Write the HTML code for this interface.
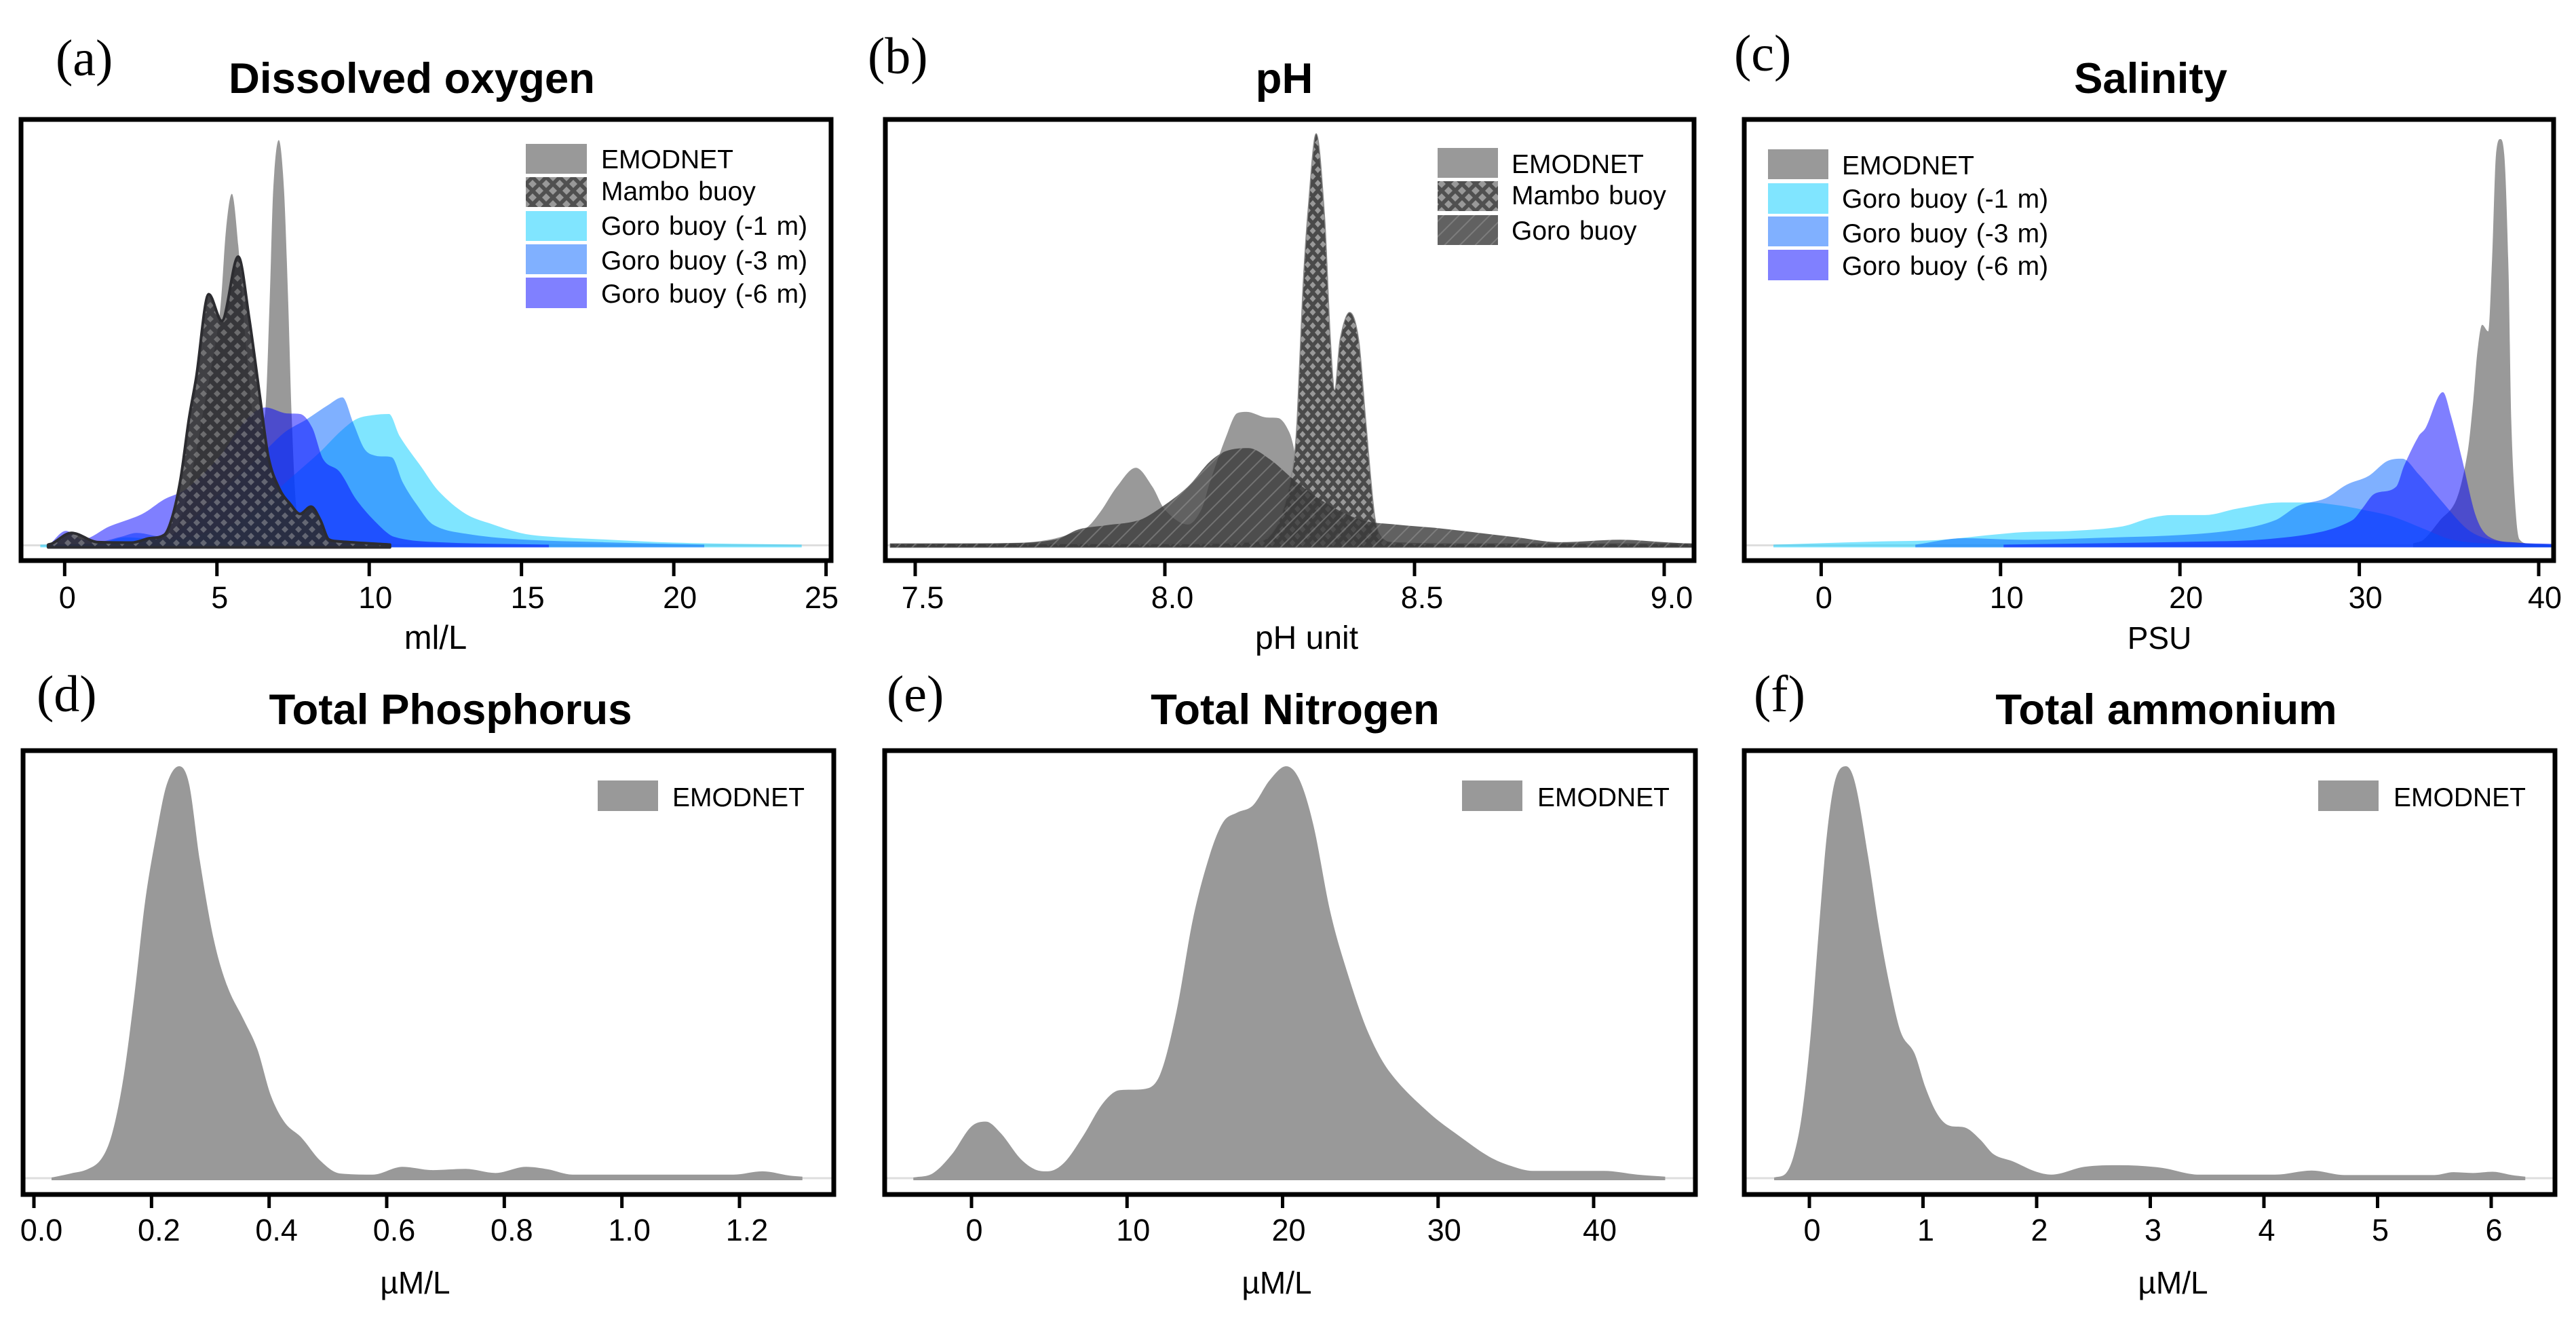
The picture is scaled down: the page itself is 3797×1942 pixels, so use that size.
<!DOCTYPE html>
<html lang="en">
<head>
<meta charset="utf-8">
<title>Density distributions of water quality parameters</title>
<style>
html,body{margin:0;padding:0;background:#fff;}
svg{display:block;}
text{font-family:"Liberation Sans",Arial,sans-serif;fill:#000;}
.title{font-size:63.5px;font-weight:700;text-anchor:middle;}
.letter{font-family:"Liberation Serif","Times New Roman",serif;font-size:76px;}
.axis-title{font-size:46px;text-anchor:middle;}
.legend{font-size:39px;word-spacing:2.4px;}
.tick-label{font-size:45px;text-anchor:middle;}
.frame{fill:none;stroke:#000;stroke-width:7;}
.base{stroke:#dedede;stroke-width:3;}
</style>
</head>
<body>
<svg id="fig" xmlns="http://www.w3.org/2000/svg" width="3797" height="1942" viewBox="0 0 3797 1942">
<defs>
  <pattern id="mamboA" patternUnits="userSpaceOnUse" width="20" height="20">
    <rect width="20" height="20" fill="#2b2b30" fill-opacity="0.9"/>
    <polygon points="0,-5 5,0 0,5 -5,0" fill="#b5b5b5" fill-opacity="0.42"/>
    <polygon points="20,-5 25,0 20,5 15,0" fill="#b5b5b5" fill-opacity="0.42"/>
    <polygon points="0,15 5,20 0,25 -5,20" fill="#b5b5b5" fill-opacity="0.42"/>
    <polygon points="20,15 25,20 20,25 15,20" fill="#b5b5b5" fill-opacity="0.42"/>
    <polygon points="10,5 15,10 10,15 5,10" fill="#b5b5b5" fill-opacity="0.42"/>
  </pattern>
  <pattern id="mamboB" patternUnits="userSpaceOnUse" width="15" height="20">
    <rect width="15" height="20" fill="#4a4a4a"/>
    <polygon points="0,-5 4.5,0 0,5 -4.5,0" fill="#9a9a9a"/>
    <polygon points="15,-5 19.5,0 15,5 10.5,0" fill="#9a9a9a"/>
    <polygon points="0,15 4.5,20 0,25 -4.5,20" fill="#9a9a9a"/>
    <polygon points="15,15 19.5,20 15,25 10.5,20" fill="#9a9a9a"/>
    <polygon points="7.5,5 12,10 7.5,15 3,10" fill="#9a9a9a"/>
  </pattern>
  <pattern id="mamboLegend" patternUnits="userSpaceOnUse" width="20" height="20" x="775" y="261">
    <rect width="20" height="20" fill="#505050"/>
    <polygon points="0,-6 6,0 0,6 -6,0" fill="#999"/>
    <polygon points="20,-6 26,0 20,6 14,0" fill="#999"/>
    <polygon points="0,14 6,20 0,26 -6,20" fill="#999"/>
    <polygon points="20,14 26,20 20,26 14,20" fill="#999"/>
    <polygon points="10,4 16,10 10,16 4,10" fill="#999"/>
  </pattern>
  <pattern id="stripes" patternUnits="userSpaceOnUse" width="16" height="16" patternTransform="rotate(45)">
    <rect width="16" height="16" fill="#3a3a3a" fill-opacity="0.8"/>
    <rect width="2" height="16" fill="#9a9a9a" fill-opacity="0.5"/>
  </pattern>
  <clipPath id="clip-a"><rect x="31" y="176" width="1194" height="650"/></clipPath>
  <clipPath id="clip-b"><rect x="1305" y="176" width="1192" height="650"/></clipPath>
  <clipPath id="clip-c"><rect x="2571" y="176" width="1193" height="650"/></clipPath>
  <clipPath id="clip-d"><rect x="34" y="1106" width="1195" height="654"/></clipPath>
  <clipPath id="clip-e"><rect x="1304" y="1106" width="1195" height="654"/></clipPath>
  <clipPath id="clip-f"><rect x="2571" y="1106" width="1195" height="654"/></clipPath>
</defs>
<rect width="3797" height="1942" fill="#fff"/>

<!-- panel a -->
<g>
  <text class="letter" x="82" y="111">(a)</text>
  <text class="title" x="607" y="137">Dissolved oxygen</text>
  <line class="base" x1="31" x2="1225" y1="803.5" y2="803.5"/>
  <g id="areas-a" clip-path="url(#clip-a)"></g>
  <rect class="frame" x="31" y="176" width="1194" height="650"/>
  <g id="ticks-a"></g>
  <text class="axis-title" x="642" y="956" style="font-size:49px">ml/L</text>
  <g>
    <rect x="775" y="212" width="90" height="44" fill="#999"/>
    <rect x="775" y="261" width="90" height="44" fill="url(#mamboLegend)"/>
    <rect x="775" y="311" width="90" height="44" fill="#80e5ff"/>
    <rect x="775" y="360" width="90" height="44" fill="#80b0ff"/>
    <rect x="775" y="409" width="90" height="45" fill="#8080ff"/>
    <text class="legend" x="886" y="248">EMODNET</text>
    <text class="legend" x="886" y="295">Mambo buoy</text>
    <text class="legend" x="886" y="346">Goro buoy (-1 m)</text>
    <text class="legend" x="886" y="397">Goro buoy (-3 m)</text>
    <text class="legend" x="886" y="446">Goro buoy (-6 m)</text>
  </g>
</g>

<!-- panel b -->
<g>
  <text class="letter" x="1279" y="108">(b)</text>
  <text class="title" x="1893" y="137">pH</text>
  <line class="base" x1="1305" x2="2497" y1="803.5" y2="803.5"/>
  <g id="areas-b" clip-path="url(#clip-b)"></g>
  <rect class="frame" x="1305" y="176" width="1192" height="650"/>
  <g id="ticks-b"></g>
  <text class="axis-title" x="1926" y="956" style="font-size:48px">pH unit</text>
  <g>
    <rect x="2119" y="218" width="89" height="44" fill="#999"/>
    <rect x="2119" y="267" width="89" height="44" fill="url(#mamboLegend)"/>
    <rect x="2119" y="317" width="89" height="44" fill="url(#stripes)"/>
    <text class="legend" x="2228" y="255">EMODNET</text>
    <text class="legend" x="2228" y="301">Mambo buoy</text>
    <text class="legend" x="2228" y="353">Goro buoy</text>
  </g>
</g>

<!-- panel c -->
<g>
  <text class="letter" x="2556" y="104">(c)</text>
  <text class="title" x="3170" y="137">Salinity</text>
  <line class="base" x1="2571" x2="3764" y1="803.5" y2="803.5"/>
  <g id="areas-c" clip-path="url(#clip-c)"></g>
  <rect class="frame" x="2571" y="176" width="1193" height="650"/>
  <g id="ticks-c"></g>
  <text class="axis-title" x="3183" y="956">PSU</text>
  <g>
    <rect x="2606" y="220" width="89" height="44" fill="#999"/>
    <rect x="2606" y="270" width="89" height="45" fill="#80e5ff"/>
    <rect x="2606" y="319" width="89" height="44" fill="#80b0ff"/>
    <rect x="2606" y="368" width="89" height="45" fill="#8080ff"/>
    <text class="legend" x="2715" y="257">EMODNET</text>
    <text class="legend" x="2715" y="306">Goro buoy (-1 m)</text>
    <text class="legend" x="2715" y="357">Goro buoy (-3 m)</text>
    <text class="legend" x="2715" y="405">Goro buoy (-6 m)</text>
  </g>
</g>

<!-- panel d -->
<g>
  <text class="letter" x="54" y="1048">(d)</text>
  <text class="title" x="664" y="1067">Total Phosphorus</text>
  <line class="base" x1="34" x2="1229" y1="1736" y2="1736"/>
  <g id="areas-d" clip-path="url(#clip-d)"></g>
  <rect class="frame" x="34" y="1106" width="1195" height="654"/>
  <g id="ticks-d"></g>
  <text class="axis-title" x="612" y="1906">µM/L</text>
  <g>
    <rect x="881" y="1150" width="89" height="45" fill="#999"/>
    <text class="legend" x="991" y="1188">EMODNET</text>
  </g>
</g>

<!-- panel e -->
<g>
  <text class="letter" x="1307" y="1048">(e)</text>
  <text class="title" x="1909" y="1067">Total Nitrogen</text>
  <line class="base" x1="1304" x2="2499" y1="1736" y2="1736"/>
  <g id="areas-e" clip-path="url(#clip-e)"></g>
  <rect class="frame" x="1304" y="1106" width="1195" height="654"/>
  <g id="ticks-e"></g>
  <text class="axis-title" x="1882" y="1906">µM/L</text>
  <g>
    <rect x="2155" y="1150" width="89" height="45" fill="#999"/>
    <text class="legend" x="2266" y="1188">EMODNET</text>
  </g>
</g>

<!-- panel f -->
<g>
  <text class="letter" x="2585" y="1048">(f)</text>
  <text class="title" x="3193" y="1067">Total ammonium</text>
  <line class="base" x1="2571" x2="3766" y1="1736" y2="1736"/>
  <g id="areas-f" clip-path="url(#clip-f)"></g>
  <rect class="frame" x="2571" y="1106" width="1195" height="654"/>
  <g id="ticks-f"></g>
  <text class="axis-title" x="3203" y="1906">µM/L</text>
  <g>
    <rect x="3417" y="1150" width="89" height="45" fill="#999"/>
    <text class="legend" x="3528" y="1188">EMODNET</text>
  </g>
</g>
</svg>

<script>
// ---- Tick values and labels ----
var doTicks = [0, 5, 10, 15, 20, 25];
var doTickLabels = ['0', '5', '10', '15', '20', '25'];
var phTicks = [7.5, 8, 8.5, 9];
var phTickLabels = ['7.5', '8.0', '8.5', '9.0'];
var salTicks = [0, 10, 20, 30, 40];
var salTickLabels = ['0', '10', '20', '30', '40'];
var tpTicks = [0, 0.2, 0.4, 0.6, 0.8, 1, 1.2];
var tpTickLabels = ['0.0', '0.2', '0.4', '0.6', '0.8', '1.0', '1.2'];
var tnTicks = [0, 10, 20, 30, 40];
var tnTickLabels = ['0', '10', '20', '30', '40'];
var amTicks = [0, 1, 2, 3, 4, 5, 6];
var amTickLabels = ['0', '1', '2', '3', '4', '5', '6'];

// ---- (a) Dissolved oxygen: value grid + relative density ----
var doEmodnetX = [-0.6, 3, 3.6, 4.1, 4.6, 5.0, 5.13, 5.3, 5.49, 5.7, 6.0, 6.3, 6.58, 6.73, 6.85, 7.03, 7.2, 7.34, 7.45, 7.6, 7.8, 8.5, 10];
var doEmodnetD = [0, 0.005, 0.03, 0.15, 0.35, 0.52, 0.6, 0.78, 0.867, 0.74, 0.45, 0.28, 0.325, 0.6, 0.88, 1, 0.88, 0.6, 0.325, 0.095, 0.04, 0.005, 0];
var doGoro1X = [-0.8, 1.1, 2, 3.27, 4.7, 5.97, 6.87, 7.5, 8.4, 9.03, 9.57, 10.1, 10.65, 11, 11.73, 12.27, 13.17, 14.06, 14.96, 15.7, 17.66, 20, 24.2];
var doGoro1D = [0, 0.003, 0.018, 0.013, 0.03, 0.07, 0.128, 0.17, 0.23, 0.278, 0.31, 0.32, 0.323, 0.268, 0.19, 0.133, 0.076, 0.05, 0.029, 0.021, 0.013, 0.005, 0];
var doGoro3X = [-0.5, 0.9, 1.83, 2.37, 3.27, 4, 4.7, 5.6, 6.5, 7.23, 7.95, 8.67, 9.12, 9.48, 9.84, 10.2, 10.74, 11.1, 11.55, 12.09, 13.17, 14.96, 17.66, 21];
var doGoro3D = [0, 0.003, 0.019, 0.029, 0.019, 0.05, 0.1, 0.164, 0.226, 0.278, 0.31, 0.346, 0.364, 0.3, 0.237, 0.22, 0.216, 0.154, 0.1, 0.05, 0.027, 0.013, 0.006, 0];
var doGoro6X = [-0.5, 0.04, 0.58, 1.47, 2.55, 3.27, 4, 5.07, 5.97, 6.6, 7.23, 7.73, 8.13, 8.49, 9.03, 9.57, 10.29, 10.83, 12.27, 15.9];
var doGoro6D = [0, 0.034, 0.013, 0.045, 0.076, 0.112, 0.138, 0.216, 0.31, 0.339, 0.325, 0.323, 0.289, 0.211, 0.18, 0.112, 0.05, 0.019, 0.006, 0];
var doMamboX = [-0.54, -0.4, 0.22, 1.1, 2.2, 2.73, 3.27, 3.54, 3.81, 4.08, 4.32, 4.73, 5.16, 5.7, 6.06, 6.42, 6.69, 7.05, 7.41, 7.73, 8.09, 8.4, 8.67, 9, 10.68];
var doMamboD = [0, 0.003, 0.029, 0.006, 0.005, 0.015, 0.024, 0.07, 0.164, 0.31, 0.413, 0.619, 0.553, 0.712, 0.559, 0.361, 0.216, 0.138, 0.1, 0.076, 0.094, 0.06, 0.013, 0.008, 0];

// ---- (b) pH ----
var phEmodnetX = [7.45, 7.717, 7.772, 7.805, 7.843, 7.871, 7.904, 7.942, 7.975, 8.0, 8.046, 8.073, 8.09, 8.123, 8.145, 8.164, 8.2, 8.227, 8.249, 8.26, 8.265, 8.3, 8.35, 8.4, 8.5, 9.06];
var phEmodnetD = [0, 0.005, 0.013, 0.024, 0.041, 0.08, 0.141, 0.187, 0.141, 0.085, 0.049, 0.085, 0.151, 0.264, 0.32, 0.323, 0.31, 0.308, 0.274, 0.223, 0.16, 0.06, 0.02, 0.005, 0.002, 0];
var phMamboX = [7.45, 8.0, 8.189, 8.221, 8.243, 8.258, 8.265, 8.276, 8.287, 8.303, 8.32, 8.331, 8.34, 8.351, 8.37, 8.388, 8.402, 8.419, 8.43, 8.457, 8.6, 9.06];
var phMamboD = [0.002, 0.002, 0.008, 0.039, 0.11, 0.202, 0.305, 0.611, 0.816, 1, 0.795, 0.509, 0.376, 0.499, 0.565, 0.499, 0.305, 0.08, 0.024, 0.005, 0.002, 0.002];
var phGoroX = [7.45, 7.7, 7.783, 7.827, 7.882, 7.947, 7.986, 8.046, 8.09, 8.123, 8.167, 8.21, 8.265, 8.331, 8.397, 8.463, 8.54, 8.627, 8.704, 8.79, 8.912, 9, 9.06];
var phGoroD = [0.002, 0.004, 0.013, 0.037, 0.047, 0.059, 0.085, 0.141, 0.202, 0.228, 0.235, 0.208, 0.151, 0.095, 0.059, 0.049, 0.041, 0.029, 0.018, 0.006, 0.012, 0.006, 0.002];

// ---- (c) Salinity ----
var salEmodnetX = [33, 33.6, 34.5, 35.42, 36.03, 36.34, 36.58, 36.85, 37.19, 37.4, 37.62, 37.86, 38.08, 38.32, 38.47, 38.72, 38.93, 39.5, 40.7];
var salEmodnetD = [0.003, 0.013, 0.06, 0.112, 0.226, 0.35, 0.475, 0.542, 0.526, 0.703, 0.962, 1, 0.962, 0.672, 0.309, 0.081, 0.013, 0.002, 0];
var salGoro1X = [-2.66, 3.36, 6.4, 9.47, 11.3, 14.05, 16.8, 18.3, 19.54, 21.4, 23.2, 25.65, 27.2, 29, 30.2, 31.8, 33.6, 35.1, 37, 40.7];
var salGoro1D = [0, 0.008, 0.011, 0.024, 0.031, 0.034, 0.045, 0.065, 0.073, 0.073, 0.089, 0.104, 0.104, 0.096, 0.086, 0.07, 0.039, 0.013, 0.003, 0];
var salGoro3X = [5.25, 7.94, 11.3, 15.6, 20.15, 23.2, 25.3, 26.6, 28.1, 29.3, 30.5, 31.6, 32.4, 33.3, 34.5, 36, 37.25, 38.8, 40.7];
var salGoro3D = [0, 0.016, 0.012, 0.017, 0.024, 0.037, 0.06, 0.096, 0.114, 0.148, 0.169, 0.207, 0.212, 0.174, 0.112, 0.039, 0.013, 0.005, 0.001];
var salGoro6X = [10.17, 21.7, 24.7, 27.8, 29.6, 30.2, 30.8, 32.06, 32.5, 33.3, 33.7, 34.66, 35.1, 35.7, 36.5, 37.25, 38.8, 40.7];
var salGoro6D = [0, 0.008, 0.013, 0.031, 0.06, 0.091, 0.124, 0.143, 0.195, 0.267, 0.288, 0.376, 0.319, 0.216, 0.07, 0.019, 0.005, 0.002];

// ---- (d) Total phosphorus ----
var tpEmodnetX = [0.03, 0.063, 0.091, 0.115, 0.133, 0.152, 0.171, 0.189, 0.208, 0.226, 0.247, 0.264, 0.282, 0.306, 0.329, 0.357, 0.38, 0.403, 0.427, 0.455, 0.487, 0.52, 0.576, 0.627, 0.678, 0.734, 0.785, 0.837, 0.874, 0.916, 1.19, 1.239, 1.284, 1.307];
var tpEmodnetD = [0, 0.01, 0.02, 0.046, 0.107, 0.24, 0.445, 0.67, 0.833, 0.956, 1, 0.956, 0.772, 0.578, 0.465, 0.383, 0.312, 0.199, 0.133, 0.097, 0.041, 0.01, 0.007, 0.026, 0.018, 0.021, 0.011, 0.026, 0.02, 0.007, 0.007, 0.015, 0.005, 0.002];

// ---- (e) Total nitrogen ----
var tnEmodnetX = [-3.74, -2.5, -1.27, -0.04, 0.92, 1.9, 3.14, 4.2, 4.9, 5.96, 7.19, 8.42, 9.48, 11.07, 12.12, 13.18, 14.24, 15.3, 16.18, 17.06, 18.1, 19.17, 20.23, 21.1, 22, 23.05, 24.1, 25.5, 26.9, 29.4, 31.5, 33.27, 34.7, 36.1, 40.67, 42.8, 44.6];
var tnEmodnetD = [0, 0.01, 0.056, 0.123, 0.136, 0.107, 0.046, 0.018, 0.015, 0.036, 0.102, 0.179, 0.212, 0.215, 0.25, 0.404, 0.629, 0.782, 0.864, 0.887, 0.905, 0.966, 1, 0.966, 0.854, 0.649, 0.506, 0.353, 0.256, 0.158, 0.097, 0.051, 0.028, 0.016, 0.016, 0.007, 0.002];

// ---- (f) Total ammonium ----
var amEmodnetX = [-0.31, -0.207, -0.135, -0.063, 0.01, 0.082, 0.154, 0.227, 0.323, 0.405, 0.516, 0.612, 0.708, 0.805, 0.925, 1.02, 1.118, 1.214, 1.383, 1.504, 1.624, 1.793, 1.986, 2.13, 2.42, 2.73, 3.09, 3.43, 4.1, 4.42, 4.71, 5.5, 5.67, 5.84, 6.01, 6.18, 6.3];
var amEmodnetD = [0, 0.01, 0.056, 0.158, 0.343, 0.598, 0.833, 0.966, 1, 0.956, 0.782, 0.608, 0.465, 0.353, 0.302, 0.22, 0.158, 0.128, 0.12, 0.092, 0.056, 0.039, 0.015, 0.007, 0.026, 0.03, 0.024, 0.007, 0.007, 0.017, 0.006, 0.006, 0.013, 0.011, 0.014, 0.006, 0.002];

var SVGNS = 'http://www.w3.org/2000/svg';

function linear(v0, p0, v1, p1) {
  return function (v) { return p0 + (v - v0) * (p1 - p0) / (v1 - v0); };
}

// smooth cubic path (Catmull-Rom tangents with a monotonicity limit)
function curve(px, py) {
  var n = px.length, i, dx = [], m = [], t = [];
  for (i = 0; i < n - 1; i++) {
    dx[i] = px[i + 1] - px[i];
    m[i] = (py[i + 1] - py[i]) / dx[i];
  }
  t[0] = m[0];
  t[n - 1] = m[n - 2];
  for (i = 1; i < n - 1; i++) {
    if (m[i - 1] * m[i] <= 0) { t[i] = 0; }
    else {
      var c = (py[i + 1] - py[i - 1]) / (px[i + 1] - px[i - 1]);
      var lim = 3 * Math.min(Math.abs(m[i - 1]), Math.abs(m[i]));
      t[i] = Math.sign(c) * Math.min(Math.abs(c), lim);
    }
  }
  var d = '';
  for (i = 0; i < n - 1; i++) {
    d += 'C' + (px[i] + dx[i] / 3).toFixed(2) + ',' + (py[i] + t[i] * dx[i] / 3).toFixed(2) + ' ' +
         (px[i + 1] - dx[i] / 3).toFixed(2) + ',' + (py[i + 1] - t[i + 1] * dx[i] / 3).toFixed(2) + ' ' +
         px[i + 1].toFixed(2) + ',' + py[i + 1].toFixed(2);
  }
  return d;
}

function area(groupId, name, xs, ds, xf, yf, y0, fill, opacity, stroke, strokeWidth) {
  var px = xs.map(xf);
  var py = ds.map(function (d) { return yf(d) - 1; });
  var d = 'M' + px[0].toFixed(2) + ',' + (y0 + 3) + 'L' + px[0].toFixed(2) + ',' + py[0].toFixed(2) +
          curve(px, py) + 'L' + px[px.length - 1].toFixed(2) + ',' + (y0 + 3) + 'Z';
  var el = document.createElementNS(SVGNS, 'path');
  
  
  el.setAttribute('d', d);
  el.setAttribute('fill', fill);
  if (opacity < 1) { el.setAttribute('fill-opacity', opacity); }
  if (stroke) {
    el.setAttribute('stroke', stroke);
    el.setAttribute('stroke-width', strokeWidth);
    el.setAttribute('stroke-linejoin', 'round');
  }
  document.getElementById(groupId).appendChild(el);
}

function ticks(groupId, values, labels, xf, yTop, yEnd, yLabel, maxLabelX) {
  var g = document.getElementById(groupId);
  values.forEach(function (v, i) {
    var line = document.createElementNS(SVGNS, 'line');
    
    
    line.setAttribute('x1', xf(v));
    line.setAttribute('x2', xf(v));
    line.setAttribute('y1', yTop);
    line.setAttribute('y2', yEnd);
    line.setAttribute('stroke', '#000');
    line.setAttribute('stroke-width', 5);
    g.appendChild(line);
    var len = labels[i].length;
    var shift = len === 1 ? 4 : (len === 2 ? 9 : 11);
    var tx = document.createElementNS(SVGNS, 'text');
    
    
    tx.setAttribute('class', 'tick-label');
    tx.setAttribute('x', Math.min(xf(v) + shift, maxLabelX));
    tx.setAttribute('y', yLabel);
    tx.textContent = labels[i];
    g.appendChild(tx);
  });
}

var GREY = '#999999', CYAN = '#00ccff', AZURE = '#0061ff', BLUE = '#0000ff';

// Panel a
var xA = linear(0, 95.3, 25, 1217.6), yA = linear(0, 803.5, 1, 207.4);
area('areas-a', 'area-emodnet', doEmodnetX, doEmodnetD, xA, yA, 803.5, GREY, 1);
area('areas-a', 'area-goro-1m', doGoro1X, doGoro1D, xA, yA, 803.5, CYAN, 0.5);
area('areas-a', 'area-goro-3m', doGoro3X, doGoro3D, xA, yA, 803.5, AZURE, 0.5);
area('areas-a', 'area-goro-6m', doGoro6X, doGoro6D, xA, yA, 803.5, BLUE, 0.5);
area('areas-a', 'area-mambo', doMamboX, doMamboD, xA, yA, 803.5, 'url(#mamboA)', 1, '#2c2c30', 4);
ticks('ticks-a', doTicks, doTickLabels, xA, 826, 849, 896, 1211);

// Panel b
var xB = linear(7.5, 1349, 9, 2453), yB = linear(0, 803.5, 1, 198);
area('areas-b', 'area-emodnet', phEmodnetX, phEmodnetD, xB, yB, 803.5, GREY, 1);
area('areas-b', 'area-mambo', phMamboX, phMamboD, xB, yB, 803.5, 'url(#mamboB)', 1, '#8a8a8a', 1.5);
area('areas-b', 'area-goro', phGoroX, phGoroD, xB, yB, 803.5, 'url(#stripes)', 1);
ticks('ticks-b', phTicks, phTickLabels, xB, 826, 849, 896, Infinity);

// Panel c
var xC = linear(0, 2684.4, 40, 3742), yC = linear(0, 803.5, 1, 206);
area('areas-c', 'area-emodnet', salEmodnetX, salEmodnetD, xC, yC, 803.5, GREY, 1);
area('areas-c', 'area-goro-1m', salGoro1X, salGoro1D, xC, yC, 803.5, CYAN, 0.5);
area('areas-c', 'area-goro-3m', salGoro3X, salGoro3D, xC, yC, 803.5, AZURE, 0.5);
area('areas-c', 'area-goro-6m', salGoro6X, salGoro6D, xC, yC, 803.5, BLUE, 0.5);
ticks('ticks-c', salTicks, salTickLabels, xC, 826, 849, 896, Infinity);

// Panel d
var xD = linear(0, 50, 1.2, 1090), yD = linear(0, 1736, 1, 1130);
area('areas-d', 'area-emodnet', tpEmodnetX, tpEmodnetD, xD, yD, 1736, GREY, 1);
ticks('ticks-d', tpTicks, tpTickLabels, xD, 1760, 1780, 1828, Infinity);

// Panel e
var xE = linear(0, 1432, 40, 2349), yE = linear(0, 1736, 1, 1130);
area('areas-e', 'area-emodnet', tnEmodnetX, tnEmodnetD, xE, yE, 1736, GREY, 1);
ticks('ticks-e', tnTicks, tnTickLabels, xE, 1760, 1780, 1828, Infinity);

// Panel f
var xF = linear(0, 2667, 6, 3672), yF = linear(0, 1736, 1, 1130);
area('areas-f', 'area-emodnet', amEmodnetX, amEmodnetD, xF, yF, 1736, GREY, 1);
ticks('ticks-f', amTicks, amTickLabels, xF, 1760, 1780, 1828, Infinity);
</script>
</body>
</html>
